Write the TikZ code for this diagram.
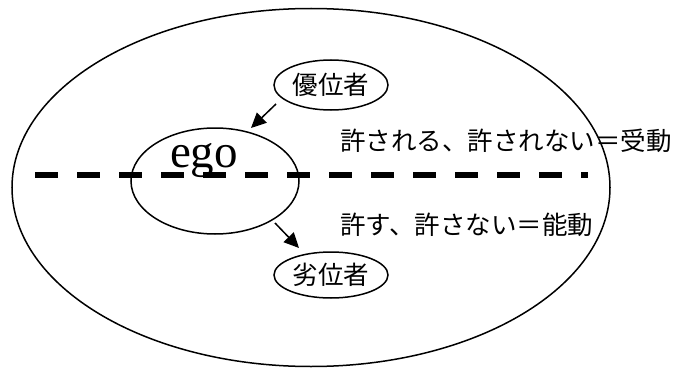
\documentclass[tikz,border=0pt]{standalone}
\usepackage{fontspec}
\setmainfont{Liberation Serif}
\newfontfamily\jpfont{Noto Sans CJK JP}
\usetikzlibrary{arrows.meta}
\begin{document}
\begin{tikzpicture}[x=1pt,y=-1pt,
  outline/.style={draw=black,line width=1.5pt},
  jptext/.style={font=\jpfont\fontsize{25.5pt}{28pt}\selectfont,inner sep=0pt},
  pointer/.style={line width=1.5pt,-{Triangle[length=15pt,width=14pt]}},
  divider/.style={line width=6pt,dash pattern=on 23pt off 19pt}]
\useasboundingbox (0,0) rectangle (686,369);
% outer ellipse
\draw[outline] (311,187.5) ellipse [x radius=299, y radius=179];
% dashed divider
\coordinate (dl) at (35,175);
\coordinate (dr) at (588,175);
\draw[divider] (dl) -- (dr);
% ego ellipse
\draw[outline] (215,181) ellipse [x radius=84, y radius=53];
\node[inner sep=0pt,anchor=base,font=\fontsize{47pt}{50pt}\selectfont] (ego) at (204,167) {ego};
% superior / inferior
\draw[outline] (331,85) ellipse [x radius=57, y radius=25];
\node[jptext] (sup) at (331,85) {優位者};
\draw[outline] (331,275) ellipse [x radius=57, y radius=23];
\node[jptext] (inf) at (331,275) {劣位者};
% arrows
\coordinate (a1s) at (276,104);
\coordinate (a1e) at (251,128);
\draw[pointer] (a1s) -- (a1e);
\coordinate (a2s) at (275,223);
\coordinate (a2e) at (299,248);
\draw[pointer] (a2s) -- (a2e);
% labels
\node[jptext,anchor=west] (pas) at (340,141) {許される、許されない＝受動};
\node[jptext,anchor=west] (act) at (340,225) {許す、許さない＝能動};
\end{tikzpicture}
\end{document}
